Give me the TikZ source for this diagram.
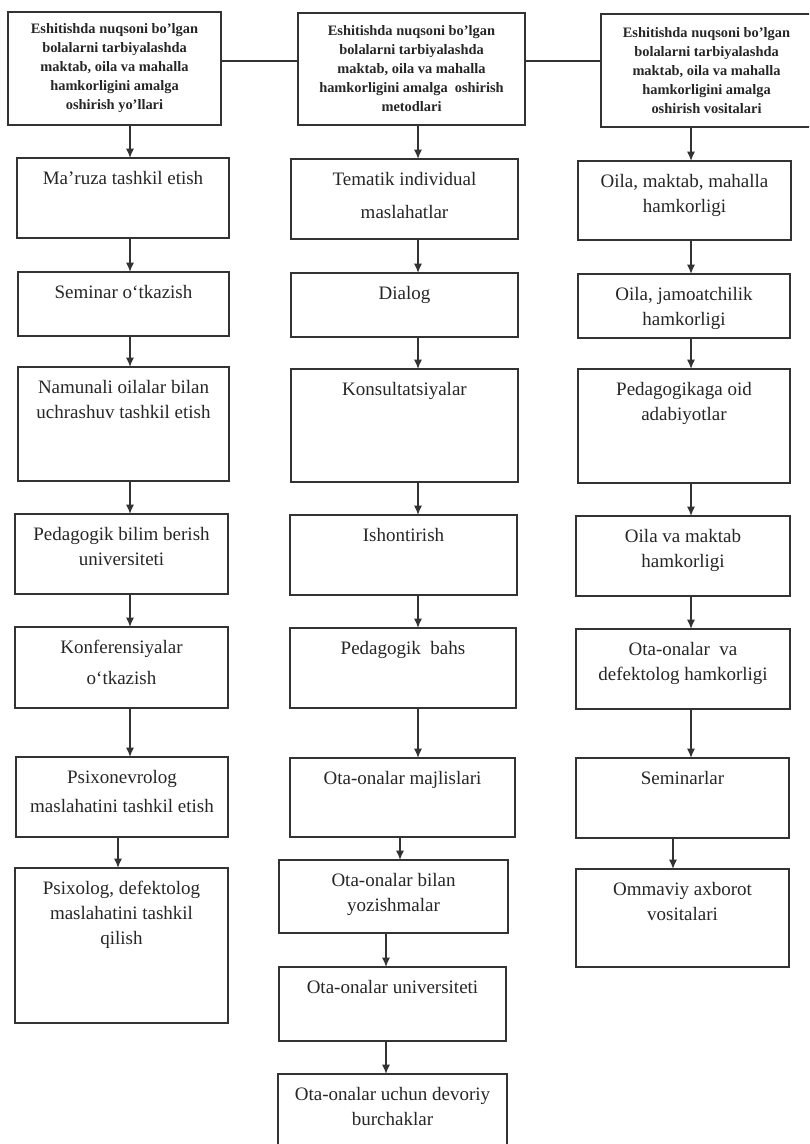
\documentclass[tikz,border=0pt]{standalone}
\usepackage{fontspec}
\setmainfont{Liberation Serif}
\usetikzlibrary{arrows.meta}

\tikzset{
  sz/.style 2 args={minimum width=0.75*#1pt, minimum height=0.75*#2pt},
  bx/.style={draw=black!80, line width=1.2pt, rectangle, inner sep=0pt, outer sep=0pt},
  hd/.style={bx, align=center, text=black!85, font=\fontsize{10.8}{14.25}\selectfont\bfseries},
  lbl/.style={anchor=north, inner sep=0pt, align=center, text=black!85, font=\fontsize{14.25}{18.75}\selectfont},
  ln/.style={draw=black!80, line width=1.1pt},
  arr/.style={ln, -{Latex[length=7pt,width=6pt]}}
}

\begin{document}
\begin{tikzpicture}[x=0.75pt,y=0.75pt,yscale=-1,xscale=1]
\useasboundingbox (0,0) rectangle (809,1144);
\clip (0,0) rectangle (809,1144);

%Shape: Rectangle -- heads
\node [hd, sz={213}{113}] (t1) at (114.5,68.5) {Eshitishda nuqsoni bo'lgan\\bolalarni tarbiyalashda\\maktab, oila va mahalla\\hamkorligini amalga\\oshirish yo'llari};
\node [hd, sz={227}{112}] (t2) at (411.5,69) {Eshitishda nuqsoni bo'lgan\\bolalarni tarbiyalashda\\maktab, oila va mahalla\\hamkorligini amalga~ oshirish\\metodlari};
\node [hd, sz={211}{113}] (t3) at (706.5,70.5) {Eshitishda nuqsoni bo'lgan\\bolalarni tarbiyalashda\\maktab, oila va mahalla\\hamkorligini amalga\\oshirish vositalari};

%Shape: Rectangle -- left column
\node [bx, sz={212}{80}] (a1) at (123,198) {};
\node [bx, sz={211}{64}] (a2) at (123.5,304) {};
\node [bx, sz={211}{114}] (a3) at (123.5,424) {};
\node [bx, sz={213}{80}] (a4) at (121.5,554) {};
\node [bx, sz={213}{81}] (a5) at (121.5,667.5) {};
\node [bx, sz={212}{80}] (a6) at (122,797) {};
\node [bx, sz={213}{155}] (a7) at (121.5,945.5) {};

%Shape: Rectangle -- middle column
\node [bx, sz={227}{80}] (b1) at (404.5,199) {};
\node [bx, sz={227}{64}] (b2) at (404.5,305) {};
\node [bx, sz={227}{113}] (b3) at (404.5,425.5) {};
\node [bx, sz={227}{80}] (b4) at (403.5,555) {};
\node [bx, sz={226}{80}] (b5) at (403,668) {};
\node [bx, sz={225}{79}] (b6) at (402.5,797.5) {};
\node [bx, sz={229}{73}] (b7) at (393.5,896.5) {};
\node [bx, sz={227}{74}] (b8) at (392.5,1004) {};
\node [bx, sz={229}{96}] (b9) at (392.5,1122) {};

%Shape: Rectangle -- right column
\node [bx, sz={213}{79}] (c1) at (684.5,200.5) {};
\node [bx, sz={212}{64}] (c2) at (684,306) {};
\node [bx, sz={212}{114}] (c3) at (684,426) {};
\node [bx, sz={214}{80}] (c4) at (683,556) {};
\node [bx, sz={214}{80}] (c5) at (683,669) {};
\node [bx, sz={213}{80}] (c6) at (682.5,798) {};
\node [bx, sz={213}{98}] (c7) at (682.5,918) {};

%Straight Lines -- heads
\coordinate (hline) at (0,61);
\draw [ln] (t1.east |- hline) -- (t2.west |- hline);
\draw [ln] (t2.east |- hline) -- (t3.west |- hline);

%Straight Lines -- left column
\coordinate (colA) at (130,0);
\coordinate (colAb) at (118,0);
\draw [arr] (t1.south -| colA) -- (a1.north -| colA);
\draw [arr] (a1.south -| colA) -- (a2.north -| colA);
\draw [arr] (a2.south -| colA) -- (a3.north -| colA);
\draw [arr] (a3.south -| colA) -- (a4.north -| colA);
\draw [arr] (a4.south -| colA) -- (a5.north -| colA);
\draw [arr] (a5.south -| colA) -- (a6.north -| colA);
\draw [arr] (a6.south -| colAb) -- (a7.north -| colAb);

%Straight Lines -- middle column
\coordinate (colB) at (418,0);
\coordinate (colBb) at (400,0);
\coordinate (colBc) at (386,0);
\draw [arr] (t2.south -| colB) -- (b1.north -| colB);
\draw [arr] (b1.south -| colB) -- (b2.north -| colB);
\draw [arr] (b2.south -| colB) -- (b3.north -| colB);
\draw [arr] (b3.south -| colB) -- (b4.north -| colB);
\draw [arr] (b4.south -| colB) -- (b5.north -| colB);
\draw [arr] (b5.south -| colB) -- (b6.north -| colB);
\draw [arr] (b6.south -| colBb) -- (b7.north -| colBb);
\draw [arr] (b7.south -| colBc) -- (b8.north -| colBc);
\draw [arr] (b8.south -| colBc) -- (b9.north -| colBc);

%Straight Lines -- right column
\coordinate (colC) at (691,0);
\coordinate (colCb) at (673,0);
\draw [arr] (t3.south -| colC) -- (c1.north -| colC);
\draw [arr] (c1.south -| colC) -- (c2.north -| colC);
\draw [arr] (c2.south -| colC) -- (c3.north -| colC);
\draw [arr] (c3.south -| colC) -- (c4.north -| colC);
\draw [arr] (c4.south -| colC) -- (c5.north -| colC);
\draw [arr] (c5.south -| colC) -- (c6.north -| colC);
\draw [arr] (c6.south -| colCb) -- (c7.north -| colCb);

% Text Node
\draw (123,171) node [lbl] (a1txt) {Ma'ruza tashkil etish};
% Text Node
\draw (123.5,285) node [lbl] (a2txt) {Seminar o‘tkazish};
% Text Node
\draw (123.5,380) node [lbl] (a3txt) {Namunali oilalar bilan\\uchrashuv tashkil etish};
% Text Node
\draw (121.5,527) node [lbl] (a4txt) {Pedagogik bilim berish\\universiteti};
% Text Node
\draw (121.5,640) node [lbl] (a5txt) {Konferensiyalar\\[4.5pt]o‘tkazish};
% Text Node
\draw (122,770) node [lbl] (a6txt) {Psixonevrolog\\[3pt]maslahatini tashkil etish};
% Text Node
\draw (121.5,881) node [lbl] (a7txt) {Psixolog, defektolog\\maslahatini tashkil\\qilish};

% Text Node
\draw (404.5,172) node [lbl] (b1txt) {Tematik individual\\[6pt]maslahatlar};
% Text Node
\draw (404.5,286) node [lbl] (b2txt) {Dialog};
% Text Node
\draw (404.5,382) node [lbl] (b3txt) {Konsultatsiyalar};
% Text Node
\draw (403.5,528) node [lbl] (b4txt) {Ishontirish};
% Text Node
\draw (403,641) node [lbl] (b5txt) {Pedagogik~ bahs};
% Text Node
\draw (402.5,771) node [lbl] (b6txt) {Ota-onalar majlislari};
% Text Node
\draw (393.5,873) node [lbl] (b7txt) {Ota-onalar bilan\\yozishmalar};
% Text Node
\draw (392.5,980) node [lbl] (b8txt) {Ota-onalar universiteti};
% Text Node
\draw (392.5,1087) node [lbl] (b9txt) {Ota-onalar uchun devoriy\\burchaklar};

% Text Node
\draw (684.5,174) node [lbl] (c1txt) {Oila, maktab, mahalla\\hamkorligi};
% Text Node
\draw (684,287) node [lbl] (c2txt) {Oila, jamoatchilik\\hamkorligi};
% Text Node
\draw (684,382) node [lbl] (c3txt) {Pedagogikaga oid\\adabiyotlar};
% Text Node
\draw (683,529) node [lbl] (c4txt) {Oila va maktab\\hamkorligi};
% Text Node
\draw (683,642) node [lbl] (c5txt) {Ota-onalar~ va\\defektolog hamkorligi};
% Text Node
\draw (682.5,771) node [lbl] (c6txt) {Seminarlar};
% Text Node
\draw (682.5,882) node [lbl] (c7txt) {Ommaviy axborot\\vositalari};

\end{tikzpicture}
\end{document}
